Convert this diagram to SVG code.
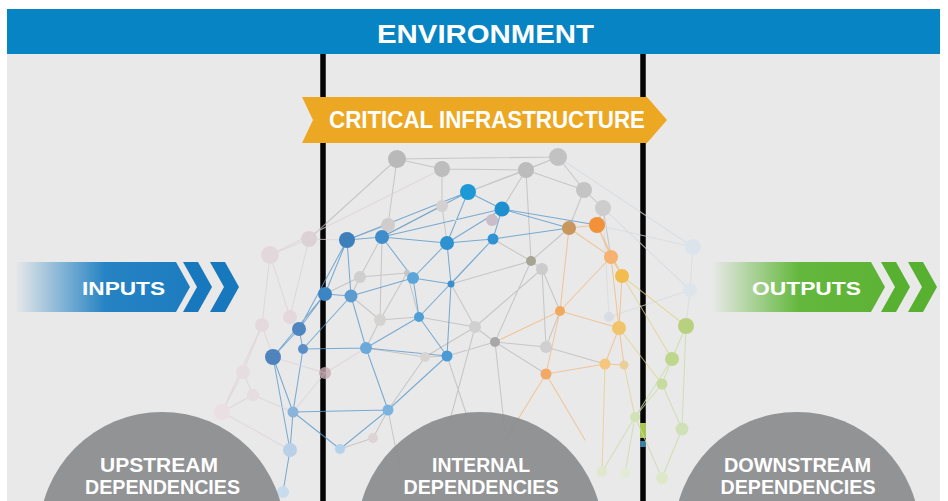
<svg xmlns="http://www.w3.org/2000/svg" width="948" height="501" viewBox="0 0 948 501">
<defs>
<linearGradient id="gIn" x1="15" y1="0" x2="240" y2="0" gradientUnits="userSpaceOnUse">
<stop offset="0" stop-color="#1b7ec2" stop-opacity="0"/>
<stop offset="0.4" stop-color="#1b7ec2" stop-opacity="0.95"/>
<stop offset="1" stop-color="#1878bd"/>
</linearGradient>
<linearGradient id="gOut" x1="712" y1="0" x2="940" y2="0" gradientUnits="userSpaceOnUse">
<stop offset="0" stop-color="#5db534" stop-opacity="0"/>
<stop offset="0.38" stop-color="#5db534" stop-opacity="0.95"/>
<stop offset="1" stop-color="#58b030"/>
</linearGradient>
<style>
.lbl{font-family:"Liberation Sans",Arial,sans-serif;font-weight:bold;fill:#ffffff;text-anchor:middle}
.sep{stroke:#050505;stroke-width:5.5}
.e{fill:none;stroke-width:1.05;stroke-linecap:round}
.eg{stroke:#b8b8b8;opacity:.7}
.eb{stroke:#5a9acc;opacity:.8}
.eo{stroke:#f2bb86;opacity:.8}
.ey{stroke:#e3d088;opacity:.75}
.en{stroke:#cadca8;opacity:.8}
.ep{stroke:#ddd2d6;opacity:.75}
.ef{stroke:#d4dbe1;opacity:.75}
.dep{fill:#8b8c8e;opacity:.93}
</style>
</defs>

<rect x="0" y="0" width="948" height="501" fill="#ffffff"/>
<rect x="7" y="54" width="933" height="447" fill="#e9e9e9"/>

<g id="environment">
<rect x="7" y="9" width="933" height="45" fill="#0784c3"/>
<text class="lbl" x="485.5" y="43" font-size="25" textLength="217" lengthAdjust="spacingAndGlyphs">ENVIRONMENT</text>
</g>

<g id="separators">
<line class="sep" x1="323" y1="54" x2="323" y2="501"/>
<line class="sep" x1="643" y1="54" x2="643" y2="501"/>
<rect x="640" y="423" width="6" height="15" fill="#a9c654"/>
<rect x="640" y="441" width="6" height="6" fill="#3c7f9e"/>
</g>

<g id="network">
<g id="connectors">
<path class="e eg" d="M397 159L442 169M397 159L558 157M442 169L526 170M526 170L558 157M558 157L584 190M584 190L603 208M526 170L584 190M397 159L388 225M442 169L442 206M397 159L309 239M526 170L468 192M526 170L502 209M526 170L531 261M558 157L468 192M584 190L569 228M603 208L597 225M603 208L611 257M388 225L347 240M388 225L382 237M388 225L360 277M442 206L382 237M442 206L447 243M360 277L325 294M360 277L351 296M360 277L407 273M407 273L419 317M531 261L542 269M531 261L493 239M531 261L451 284M531 261L569 228M542 269L546 347M542 269L560 311M542 269L475 327M380 320L351 296M380 320L419 317M380 320L366 348M380 320L382 237M475 327L495 342M475 327L451 284M475 327L419 317M495 342L546 347M495 342L447 356M495 342L546 374M495 342L531 261M546 347L560 311M546 347L605 364M425 357L366 348M425 357L447 356M425 357L388 410M425 357L475 327M373 438L388 410M373 438L340 449M447 356L470 425M495 342L505 432M388 410L400 470M475 327L450 420M407 273L380 320"/>
<path class="e ef" d="M558 157L693 247M584 190L690 290M597 225L693 247M693 247L690 290M690 290L609 317M686 326L690 290M603 208L609 317"/>
<path class="e eb" d="M468 192L502 209M468 192L347 240M468 192L382 237M468 192L447 243M502 209L447 243M502 209L493 239M502 209L382 237M347 240L382 237M347 240L325 294M347 240L351 296M347 240L299 329M382 237L413 278M382 237L447 243M447 243L413 278M447 243L451 284M493 239L447 243M493 239L451 284M493 239L419 317M413 278L451 284M413 278L351 296M413 278L419 317M325 294L351 296M325 294L299 329M325 294L273 357M351 296L303 349M351 296L366 348M419 317L366 348M419 317L447 356M451 284L447 356M299 329L273 357M299 329L303 349M273 357L293 412M273 357L290 450M303 349L366 348M303 349L293 412M366 348L447 356M366 348L388 410M447 356L388 410M293 412L388 410M293 412L290 450M293 412L340 449M388 410L340 449M290 450L283 492M502 209L569 228M493 239L569 228M502 209L597 225"/>
<path class="e ep" d="M270 255L309 239M270 255L262 325M270 255L290 317M309 239L347 240M309 239L290 317M290 317L299 329M262 325L243 372M262 325L273 357M243 372L253 395M253 395L222 412M243 372L222 412M222 412L290 450M253 395L293 412M325 373L273 357M325 373L366 348M325 373L293 412M442 169L270 255M262 325L222 412"/>
<path class="e eo" d="M569 228L597 225M569 228L611 257M569 228L560 311M597 225L611 257M597 225L622 276M611 257L622 276M611 257L560 311M622 276L619 328M611 257L619 328M560 311L546 374M560 311L619 328M546 374L605 364M619 328L605 364M619 328L624 365M605 364L624 365M546 374L505 440M546 374L585 440M560 311L495 342"/>
<path class="e ey" d="M622 276L686 326M611 257L672 359M619 328L662 384M624 365L635 417M605 364L602 472"/>
<path class="e en" d="M686 326L672 359M672 359L662 384M686 326L682 429M662 384L635 417M662 384L682 429M672 359L635 417M635 417L602 472M635 417L662 478M682 429L662 478M635 417L625 473"/>
</g>
<g id="nodes">
<circle cx="270" cy="255" r="9" fill="#e2d8dc"/>
<circle cx="309" cy="239" r="8" fill="#dcd2d6"/>
<circle cx="290" cy="317" r="7" fill="#e4d8dc"/>
<circle cx="262" cy="325" r="7" fill="#e4dade"/>
<circle cx="243" cy="372" r="7" fill="#e6dde0"/>
<circle cx="253" cy="395" r="6" fill="#e6dde0"/>
<circle cx="222" cy="412" r="8" fill="#eadfe2"/>
<circle cx="325" cy="373" r="6" fill="#c7a9b1" opacity=".8"/>

<circle cx="397" cy="159" r="9" fill="#b9b9b9"/>
<circle cx="442" cy="169" r="8" fill="#bdbdbd"/>
<circle cx="526" cy="170" r="8" fill="#bcbcbc"/>
<circle cx="558" cy="157" r="9" fill="#c2c2c2"/>
<circle cx="584" cy="190" r="8" fill="#c4c4c4"/>
<circle cx="603" cy="208" r="8" fill="#cdcdcd"/>
<circle cx="442" cy="206" r="6" fill="#d2d0d0"/>
<circle cx="388" cy="225" r="7" fill="#d0cccc"/>
<circle cx="492" cy="220" r="6" fill="#c9bdc9"/>
<circle cx="360" cy="277" r="6" fill="#cfcfcf"/>
<circle cx="407" cy="273" r="3" fill="#c4c4c4"/>
<circle cx="531" cy="261" r="5" fill="#a5a596"/>
<circle cx="542" cy="269" r="6" fill="#cccccc"/>
<circle cx="380" cy="320" r="6" fill="#d5d2d2"/>
<circle cx="475" cy="327" r="6" fill="#d0d0d0"/>
<circle cx="495" cy="342" r="5" fill="#a8a8a8"/>
<circle cx="546" cy="347" r="6" fill="#cfcfcf"/>
<circle cx="425" cy="357" r="5" fill="#d8d4d0"/>
<circle cx="373" cy="438" r="5" fill="#ddd5d5"/>

<circle cx="468" cy="192" r="8" fill="#1d9ad6"/>
<circle cx="502" cy="209" r="7.5" fill="#1e8fcf"/>
<circle cx="347" cy="240" r="8" fill="#3d7fbb"/>
<circle cx="382" cy="237" r="7" fill="#3f8dcb"/>
<circle cx="447" cy="243" r="7" fill="#2e91d1"/>
<circle cx="493" cy="239" r="5.5" fill="#2f92d2"/>
<circle cx="413" cy="278" r="6" fill="#5aa6da"/>
<circle cx="451" cy="284" r="3.5" fill="#3d8fcc"/>
<circle cx="325" cy="294" r="7" fill="#3c85c4"/>
<circle cx="351" cy="296" r="6.5" fill="#5b9bd0"/>
<circle cx="419" cy="317" r="5" fill="#4e9fd8"/>
<circle cx="299" cy="329" r="7" fill="#4f86c0"/>
<circle cx="273" cy="357" r="8" fill="#4f83bb"/>
<circle cx="303" cy="349" r="5" fill="#5a8fc8"/>
<circle cx="366" cy="348" r="6" fill="#6aa9da"/>
<circle cx="447" cy="356" r="5.5" fill="#4a9ad6"/>
<circle cx="293" cy="412" r="5.5" fill="#8ab4da"/>
<circle cx="388" cy="410" r="5.5" fill="#7ab2e0"/>
<circle cx="290" cy="450" r="7" fill="#b8d0e8"/>
<circle cx="340" cy="449" r="5" fill="#b5d2ec"/>
<circle cx="283" cy="492" r="6" fill="#c8dcee"/>

<circle cx="569" cy="228" r="7" fill="#c9975d"/>
<circle cx="597" cy="225" r="8" fill="#f1913a"/>
<circle cx="611" cy="257" r="7" fill="#f6b270"/>
<circle cx="622" cy="276" r="7" fill="#f3bc4e"/>
<circle cx="560" cy="311" r="5" fill="#f1a95f"/>
<circle cx="546" cy="374" r="5.5" fill="#f2a965"/>
<circle cx="619" cy="328" r="7" fill="#f1c46c"/>
<circle cx="605" cy="364" r="5.5" fill="#f4c67e"/>
<circle cx="624" cy="365" r="4.5" fill="#e9cf98"/>

<circle cx="693" cy="247" r="8" fill="#dbe4ea"/>
<circle cx="690" cy="290" r="7" fill="#dde5ea"/>
<circle cx="609" cy="317" r="5" fill="#d8dde4"/>
<circle cx="686" cy="326" r="8" fill="#b7d17f"/>
<circle cx="672" cy="359" r="7" fill="#bfd78d"/>
<circle cx="662" cy="384" r="5.5" fill="#c7dba0"/>
<circle cx="635" cy="417" r="5" fill="#d3e2b5"/>
<circle cx="682" cy="429" r="6.5" fill="#d1e1b7"/>
<circle cx="602" cy="472" r="5" fill="#e0e8cc"/>
<circle cx="662" cy="478" r="6" fill="#dde8c8"/>
<circle cx="625" cy="473" r="5" fill="#e4ebd4"/>
</g>
</g>

<g id="upstream">
<circle class="dep" cx="162" cy="535" r="123"/>
<text class="lbl" x="159" y="472" font-size="20" textLength="118" lengthAdjust="spacingAndGlyphs">UPSTREAM</text>
<text class="lbl" x="162.5" y="494" font-size="20" textLength="155" lengthAdjust="spacingAndGlyphs">DEPENDENCIES</text>
</g>
<g id="internal">
<circle class="dep" cx="480" cy="535" r="123" opacity=".88"/>
<text class="lbl" x="481" y="472" font-size="20" textLength="98" lengthAdjust="spacingAndGlyphs">INTERNAL</text>
<text class="lbl" x="481" y="494" font-size="20" textLength="155" lengthAdjust="spacingAndGlyphs">DEPENDENCIES</text>
</g>
<g id="downstream">
<circle class="dep" cx="797" cy="535" r="123"/>
<text class="lbl" x="797.5" y="472" font-size="20" textLength="147" lengthAdjust="spacingAndGlyphs">DOWNSTREAM</text>
<text class="lbl" x="798" y="494" font-size="20" textLength="155" lengthAdjust="spacingAndGlyphs">DEPENDENCIES</text>
</g>

<g id="critical-infrastructure">
<polygon points="302,97 647,97 667,120 647,143 302,143 313,120" fill="#eca823"/>
<text class="lbl" x="487" y="128" font-size="23" textLength="316" lengthAdjust="spacingAndGlyphs">CRITICAL INFRASTRUCTURE</text>
</g>

<g id="inputs">
<polygon points="15,262 176,262 190,287 176,312 15,312" fill="url(#gIn)"/>
<polygon points="183,262 198,262 212,287 198,312 183,312 197,287" fill="#1878bd"/>
<polygon points="210,262 225,262 239,287 225,312 210,312 224,287" fill="#1878bd"/>
<text class="lbl" x="123.5" y="295" font-size="19" textLength="83" lengthAdjust="spacingAndGlyphs">INPUTS</text>
</g>

<g id="outputs">
<polygon points="712,262 871,262 885,287 871,312 712,312" fill="url(#gOut)"/>
<polygon points="881,262 896,262 910,287 896,312 881,312 895,287" fill="#58b030"/>
<polygon points="908,262 923,262 937,287 923,312 908,312 922,287" fill="#58b030"/>
<text class="lbl" x="806.5" y="295" font-size="19" textLength="109" lengthAdjust="spacingAndGlyphs">OUTPUTS</text>
</g>
</svg>
